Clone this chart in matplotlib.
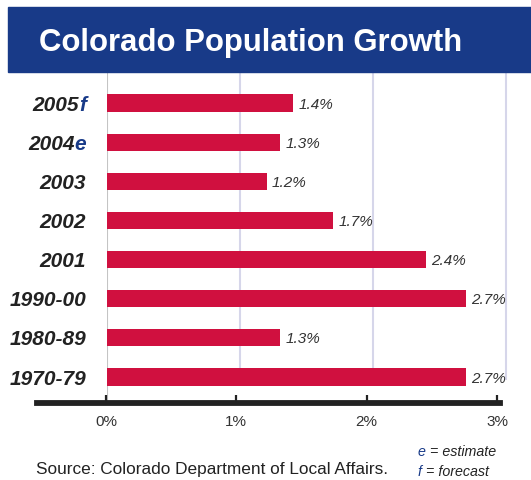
import matplotlib
matplotlib.use("Agg")
import matplotlib.pyplot as plt
from matplotlib.patches import Rectangle

# growth by period, bottom to top
periods = ["1970-79", "1980-89", "1990-00", "2001", "2002", "2003", "2004", "2005"]
suffixes = ["", "", "", "", "", "", "e", "f"]
growth = [2.7, 1.3, 2.7, 2.4, 1.7, 1.2, 1.3, 1.4]
ticks = [0, 1, 2, 3]
tick_labels = ["0%", "1%", "2%", "3%"]
notes = [("e", " = estimate"), ("f", " = forecast")]

NAVY = "#183a88"
RED = "#d0103f"
INK = "#222222"
GREY = "#333333"
GRID = "#d6d6ea"
FONT = ["Liberation Sans Narrow", "Liberation Sans", "DejaVu Sans"]
plt.rcParams["font.family"] = FONT

W, H = 531, 480
fig = plt.figure(figsize=(W / 100, H / 100), dpi=100)


def fx(px):
    return px / W


def fy(py):
    return 1 - py / H


# title banner
fig.patches.append(Rectangle((fx(8), fy(72)), 1 - fx(8), 65 / H,
                             transform=fig.transFigure, color=NAVY, zorder=0))
fig.text(fx(39), fy(39), "Colorado Population Growth", color="white",
         fontsize=22.4, fontweight="bold", va="center_baseline")

# bars
ax = fig.add_axes([fx(107), fy(403), fx(531 - 107), (403 - 72) / H])
ax.set_xlim(0, (531 - 107) / 133)
ax.set_ylim(-0.664, 7.792)
ax.set_axis_off()

ax.axvline(0, color="#c4c4c4", lw=1.5, zorder=1)
for t in ticks[1:]:
    ax.axvline(t, ymin=(403 - 379) / 331, ymax=1, color=GRID, lw=1.5, zorder=1)

y = list(range(len(periods)))
ax.barh(y, growth, height=0.44, color=RED, zorder=2)

for i, v in enumerate(growth):
    ax.text(v + 0.04, i, f"{v}%", color=GREY, fontsize=11, style="italic",
            ha="left", va="center_baseline")

lx = (86 - 107) / 133
lab = dict(fontsize=15, style="italic", fontweight="bold")
for i, (p, s) in enumerate(zip(periods, suffixes)):
    if s:
        suf = ax.text(lx, i, s, color=NAVY, ha="right", va="center_baseline", **lab)
        ax.annotate(p, xy=(0, 0), xycoords=suf, color=INK,
                    ha="right", va="bottom", **lab)
    else:
        ax.text(lx, i, p, color=INK, ha="right", va="center_baseline", **lab)

# percent scale
sax = fig.add_axes([fx(37), fy(403), fx(500 - 37), 0.001])
sax.set_xlim(-(106 - 37) / 130.33, (500 - 106) / 130.33)
sax.patch.set_visible(False)
for side in ["top", "left", "right"]:
    sax.spines[side].set_visible(False)
sax.spines["bottom"].set_linewidth(4.2)
sax.spines["bottom"].set_color(INK)
sax.set_yticks([])
sax.set_xticks(ticks, tick_labels)
sax.tick_params(axis="x", direction="in", length=6, width=1.6, color=INK,
                pad=9, labelsize=11, labelcolor=GREY)

# source and key
fig.text(fx(36), fy(474), "Source: Colorado Department of Local Affairs.",
         color=INK, fontsize=12.4, va="baseline")
for k, (letter, desc) in enumerate(notes):
    t = fig.text(fx(418), fy(456 + 20 * k), letter, color=NAVY, fontsize=10.3,
                 style="italic", va="baseline")
    ax.annotate(desc, xy=(1, 0), xycoords=t, color=INK, fontsize=10.3,
                style="italic", ha="left", va="bottom")

fig.savefig("out.png", dpi=100)
